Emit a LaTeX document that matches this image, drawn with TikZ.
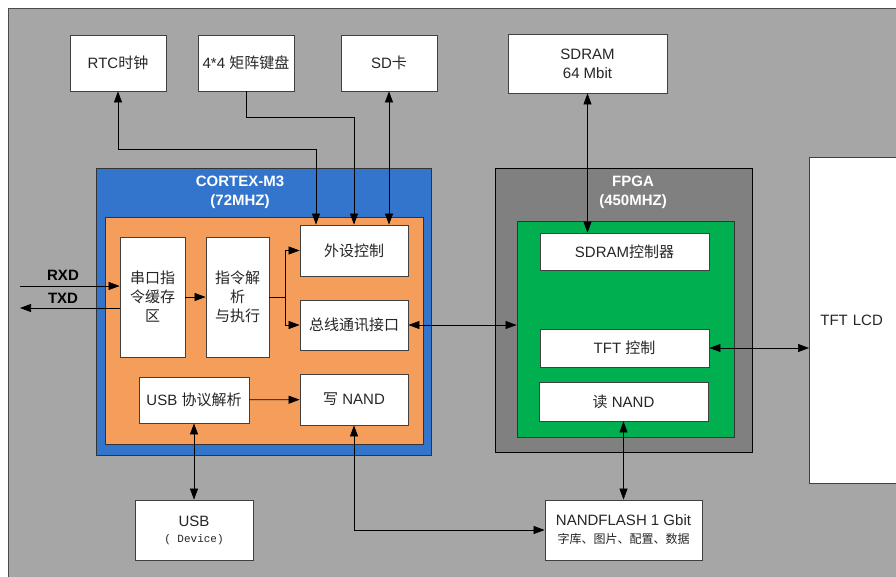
\documentclass[tikz,border=0pt]{standalone}
\usepackage{fontspec}
\setmainfont{Liberation Sans}
\newfontfamily\cjk{Noto Sans CJK SC}
\newfontfamily\simmono{Liberation Mono}
\usetikzlibrary{arrows.meta}
\definecolor{bggray}{HTML}{A6A6A6}
\definecolor{cortexblue}{HTML}{3375CC}
\definecolor{mcuorange}{HTML}{F59E5B}
\definecolor{fpgagray}{HTML}{808080}
\definecolor{logicgreen}{HTML}{00B050}

\begin{document}
\begin{tikzpicture}[x=1pt,y=-1pt,
   font=\fontsize{15}{19}\selectfont,
   box/.style={draw=black!75,fill=white,line width=0.8pt,text=black!85,align=center,inner sep=0pt},
   area/.style={draw=black!80,line width=0.8pt,inner sep=0pt},
   title/.style={text=white,font=\fontsize{15}{19}\selectfont\bfseries,align=center},
   lbl/.style={font=\fontsize{15}{17}\selectfont\bfseries},
   arr/.style={-{Triangle[length=11pt,width=8pt]},line width=0.7pt},
   biarr/.style={{Triangle[length=11pt,width=8pt]}-{Triangle[length=11pt,width=8pt]},line width=0.7pt}]
\useasboundingbox (0,0) rectangle (896,576);
\draw[draw=black!70,fill=bggray,line width=0.8pt] (8,8) rectangle (900,580);

% top devices
\node[box,minimum width=96pt,minimum height=56pt] (rtc) at (118,63) {RTC{\cjk 时钟}};
\node[box,minimum width=96pt,minimum height=56pt] (key) at (246,63) {4*4 {\cjk 矩阵键盘}};
\node[box,minimum width=96pt,minimum height=56pt] (sd) at (389,63) {SD{\cjk 卡}};
\node[box,minimum width=159pt,minimum height=59pt] (sdram) at (587.5,63.5) {SDRAM\\ 64 Mbit};

% MCU
\node[area,fill=cortexblue,minimum width=335pt,minimum height=287pt] (cortex) at (263.5,311.5) {};
\node[area,fill=mcuorange,minimum width=318pt,minimum height=227pt] (mcu) at (264,330.5) {};
\node[title] (cortextitle) at (240,192) {CORTEX-M3\\(72MHZ)};
\node[box,minimum width=65pt,minimum height=120pt] (uartbuf) at (152.5,297) {\cjk 串口指\\\cjk 令缓存\\\cjk 区};
\node[box,minimum width=63pt,minimum height=120pt] (parse) at (237.5,297) {\cjk 指令解\\\cjk 析\\\cjk 与执行};
\node[box,minimum width=108pt,minimum height=51pt] (periph) at (354,250.5) {\cjk 外设控制};
\node[box,minimum width=108pt,minimum height=50pt] (bus) at (354,325) {\cjk 总线通讯接口};
\node[box,minimum width=110pt,minimum height=46pt] (usbparse) at (194,400) {USB {\cjk 协议解析}};
\node[box,minimum width=108pt,minimum height=51pt] (wnand) at (354,399.5) {{\cjk 写}\ NAND};

% FPGA
\node[area,draw=black,fill=fpgagray,minimum width=257pt,minimum height=284pt] (fpga) at (623.5,310) {};
\node[area,fill=logicgreen,minimum width=217pt,minimum height=216pt] (logic) at (625.5,329) {};
\node[title] (fpgatitle) at (633,192) {FPGA\\(450MHZ)};
\node[box,minimum width=169pt,minimum height=37pt] (sdramctl) at (624.5,251.5) {SDRAM{\cjk 控制器}};
\node[box,minimum width=169pt,minimum height=38pt] (tftctl) at (624.5,348) {TFT {\cjk 控制}};
\node[box,minimum width=169pt,minimum height=39pt] (rnand) at (623.5,401.5) {{\cjk 读}\ NAND};

% outer devices
\node[box,anchor=west,minimum height=326pt,text width=72pt,inner xsep=11pt,align=left] (lcd) at (809,320) {TFT LCD};
\node[box,minimum width=118pt,minimum height=60pt] (usb) at (194,530) {USB\\[-3pt]{\simmono\fontsize{11}{13}\selectfont ( Device)}};
\node[box,minimum width=157pt,minimum height=60pt] (nand) at (623.5,530) {NANDFLASH 1 Gbit\\[-1pt]{\cjk\fontsize{12}{14}\selectfont 字库、图片、配置、数据}};

% serial port
\coordinate (rxdin) at (20,286);
\coordinate (txdout) at (20,308);
\draw[arr] (rxdin) -- (rxdin -| uartbuf.west);
\draw[arr] (txdout -| uartbuf.west) -- (txdout);
\node[lbl] (rxdlbl) at (63,275) {RXD};
\node[lbl] (txdlbl) at (63,298) {TXD};

% inside MCU
\draw[arr] (uartbuf) -- (parse);
\coordinate (fork) at (285,297);
\draw[line width=0.7pt] (parse.east) -- (fork);
\draw[arr] (fork) |- (periph.west);
\draw[arr] (fork) |- (bus.west);
\draw[arr] (usbparse) -- (wnand);

% links
\coordinate (rtcbend) at (316,149);
\coordinate (keybend) at (354,117);
\draw[biarr] (rtc.south) |- (rtcbend) -- (rtcbend |- periph.north);
\draw[arr] (key.south) |- (keybend) -- (periph.north);
\draw[biarr] (sd.south) -- (sd.south |- periph.north);
\draw[biarr] (sdram.south) -- (sdram.south |- sdramctl.north);
\draw[biarr] (bus.east) -- (bus.east -| logic.west);
\draw[biarr] (tftctl.east) -- (tftctl.east -| lcd.west);
\draw[biarr] (rnand.south) -- (rnand.south |- nand.north);
\draw[biarr] (wnand.south) |- (nand.west);
\draw[biarr] (usbparse.south) -- (usb.north);
\end{tikzpicture}
\end{document}
